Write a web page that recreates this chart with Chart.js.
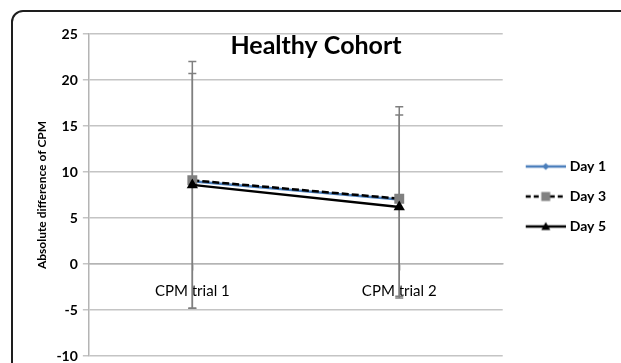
<!DOCTYPE html>
<html>
<head>
<meta charset="utf-8">
<script src="https://cdn.jsdelivr.net/npm/chart.js@4.4.0/dist/chart.umd.min.js"></script>
<style>
    html, body { margin: 0; padding: 0; background: #fff; overflow: hidden; }
    #wrap { position: relative; width: 621px; height: 363px; }
    #frame { position: absolute; left: 11px; top: 10px; width: 700px; height: 500px;
             border: 2px solid #1e1e1e; border-radius: 12px; box-sizing: border-box; }
    canvas { position: absolute; left: 0; top: 0; }
</style>
</head>
<body>
<div id="wrap">
    <div id="frame"></div>
    <canvas id="cohortChart" width="621" height="363"></canvas>
</div>
<script>
const categories = ['CPM trial 1', 'CPM trial 2'];
const seriesNames = ['Day 1', 'Day 3', 'Day 5'];
const day1Values = [9.0, 7.0];
const day3Values = [9.1, 7.1];
const day5Values = [8.6, 6.2];
// error bar lengths (above / below the point)
const day3ErrorPlus = [12.9, 10.0];
const day3ErrorMinus = [13.9, 10.6];
const day5ErrorPlus = [12.1, 10.0];
const day5ErrorMinus = [13.4, 9.9];
const yMin = -10;
const yMax = 25;
const yStep = 5;

const FONT = 'Lato, "Open Sans", sans-serif';

// small canvas used as legend sample: line + marker
function legendIcon(color, dash, marker, markerColor) {
    const c = document.createElement('canvas');
    c.width = 50;
    c.height = 14;
    const g = c.getContext('2d');
    g.strokeStyle = color;
    g.lineWidth = 2.5;
    g.setLineDash(dash);
    g.beginPath();
    g.moveTo(10, 7);
    g.lineTo(50, 7);
    g.stroke();
    g.setLineDash([]);
    g.fillStyle = markerColor;
    g.beginPath();
    if (marker === 'diamond') {
        g.moveTo(30, 3.5); g.lineTo(33.5, 7); g.lineTo(30, 10.5); g.lineTo(26.5, 7);
    } else if (marker === 'square') {
        g.rect(25.5, 2.5, 9, 9);
    } else {
        g.moveTo(30, 2.5); g.lineTo(34.5, 10.5); g.lineTo(25.5, 10.5);
    }
    g.closePath();
    g.fill();
    return c;
}

const legendIcons = [
    legendIcon('#4a7ebb', [], 'diamond', '#4a7ebb'),
    legendIcon('#000', [5, 3], 'square', '#808080'),
    legendIcon('#000', [], 'triangle', '#000')
];

const errorBarPlugin = {
    id: 'errorBars',
    beforeDatasetsDraw(chart) {
        const { ctx, scales: { x, y } } = chart;
        ctx.save();
        ctx.strokeStyle = '#7f7f7f';
        ctx.lineWidth = 1.5;
        chart.data.datasets.forEach(ds => {
            if (!ds.errorPlus) return;
            ds.data.forEach((v, i) => {
                const px = x.getPixelForValue(i);
                const top = y.getPixelForValue(v + ds.errorPlus[i]);
                const bottom = y.getPixelForValue(v - ds.errorMinus[i]);
                ctx.beginPath();
                ctx.moveTo(px, top);
                ctx.lineTo(px, bottom);
                ctx.moveTo(px - 4, top);
                ctx.lineTo(px + 4, top);
                ctx.moveTo(px - 4, bottom);
                ctx.lineTo(px + 4, bottom);
                ctx.stroke();
            });
        });
        ctx.restore();
    }
};

const ctx = document.getElementById('cohortChart').getContext('2d');
new Chart(ctx, {
    type: 'line',
    data: {
        labels: categories,
        datasets: [{
            label: seriesNames[0],
            data: day1Values,
            borderColor: '#4a7ebb',
            backgroundColor: '#4a7ebb',
            borderWidth: 2.5,
            pointStyle: 'rectRot',
            pointRadius: 4,
            pointBorderWidth: 0,
            order: 3
        }, {
            label: seriesNames[1],
            data: day3Values,
            errorPlus: day3ErrorPlus,
            errorMinus: day3ErrorMinus,
            borderColor: '#000',
            borderDash: [7, 3],
            borderWidth: 2.5,
            pointStyle: 'rect',
            pointRadius: 7,
            pointBackgroundColor: '#808080',
            pointBorderWidth: 0,
            order: 2
        }, {
            label: seriesNames[2],
            data: day5Values,
            errorPlus: day5ErrorPlus,
            errorMinus: day5ErrorMinus,
            borderColor: '#000',
            borderWidth: 2.5,
            pointStyle: 'triangle',
            pointRadius: 6.5,
            pointBackgroundColor: '#000',
            pointBorderWidth: 0,
            order: 1
        }]
    },
    options: {
        responsive: false,
        devicePixelRatio: 1,
        animation: false,
        layout: { padding: { left: 16, right: 5, top: 0, bottom: 0 } },
        scales: {
            x: {
                type: 'category',
                offset: true,
                position: { y: 0 },
                grid: { drawOnChartArea: false, tickLength: 6, color: '#b4b4b4', lineWidth: 1.5 },
                border: { color: '#b4b4b4', width: 1.5 },
                ticks: { color: '#000', font: { family: FONT, size: 15 }, padding: 12 },
                afterFit(scale) { scale.height = 0; }
            },
            y: {
                min: yMin,
                max: yMax,
                ticks: {
                    stepSize: yStep,
                    color: '#000',
                    font: { family: FONT, size: 14, weight: 'bold', lineHeight: 0.2 },
                    padding: 5
                },
                grid: { color: '#c4c4c4', lineWidth: 1.5, tickLength: 6 },
                border: { color: '#b4b4b4', width: 1.5 },
                title: {
                    display: true,
                    text: 'Absolute difference of CPM',
                    color: '#000',
                    font: { family: FONT, size: 12, weight: 'bold' },
                    padding: { top: 19, bottom: 2 }
                }
            }
        },
        plugins: {
            title: {
                display: true,
                text: 'Healthy Cohort',
                color: '#000',
                font: { family: FONT, size: 25, weight: 'bold' },
                padding: { top: 31, bottom: -27 }
            },
            legend: {
                position: 'right',
                title: { display: true, text: ' ', font: { size: 10 }, padding: { top: 18, bottom: 0 } },
                labels: {
                    usePointStyle: true,
                    pointStyleWidth: 44,
                    padding: 16,
                    color: '#000',
                    font: { family: FONT, size: 14, weight: 'bold' },
                    generateLabels: chart => chart.data.datasets.map((ds, i) => ({
                        text: ds.label,
                        pointStyle: legendIcons[i],
                        datasetIndex: i,
                        fontColor: '#000',
                        lineWidth: 0,
                        strokeStyle: 'transparent',
                        fillStyle: 'transparent',
                        hidden: false
                    }))
                }
            },
            tooltip: { enabled: false }
        }
    },
    plugins: [errorBarPlugin]
});
</script>
</body>
</html>
